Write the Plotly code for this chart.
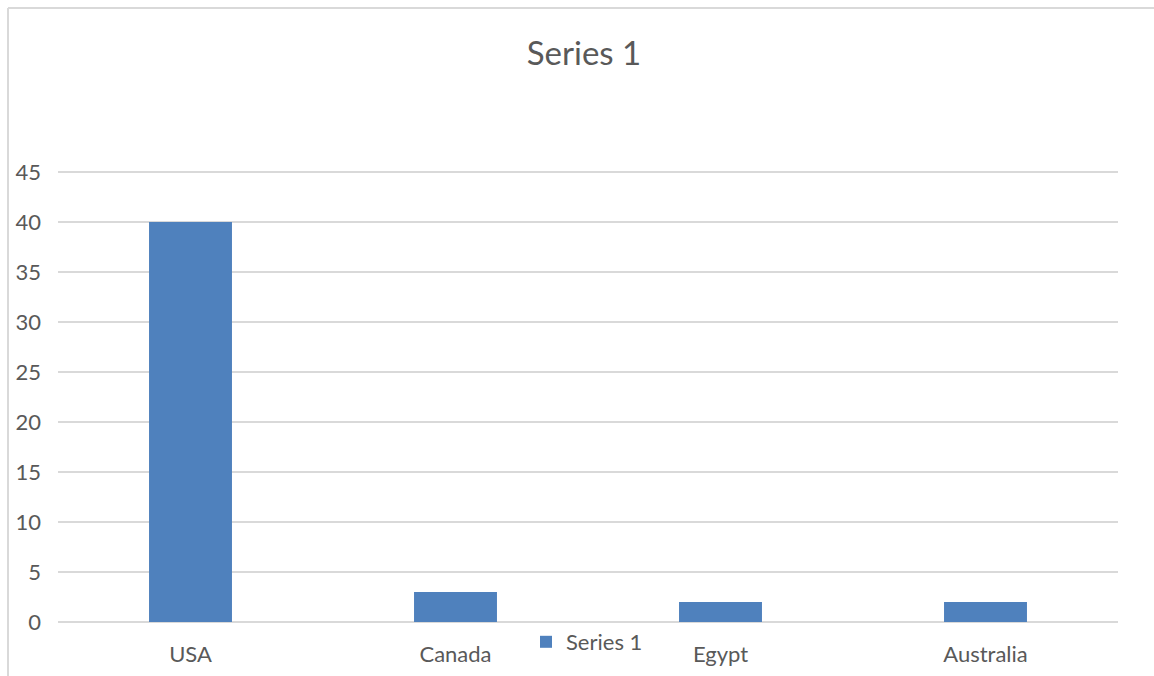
import plotly.graph_objects as go

categories = ["USA", "Canada", "Egypt", "Australia"]
values = [40, 3, 2, 2]
series_name = "Series 1"
y_ticks = [0, 5, 10, 15, 20, 25, 30, 35, 40, 45]

W, H = 1154, 676
L, R, T, B = 58, 36, 170, 54
pw = W - L - R
ph = H - T - B

fig = go.Figure()
fig.add_trace(go.Bar(
    x=categories, y=values, name=series_name,
    marker=dict(color="#4f81bd", line=dict(width=0)),
    showlegend=True,
))

font = "Lato, 'Open Sans', sans-serif"
fig.update_layout(
    width=W, height=H,
    margin=dict(l=L, r=R, t=T, b=B, autoexpand=False),
    paper_bgcolor="white", plot_bgcolor="white",
    bargap=0.687,
    font=dict(family=font, color="#595959", size=22),
    title=dict(text="Series 1", x=584 / W, xanchor="center",
               y=1 - 53 / H, yanchor="middle", yref="container",
               font=dict(size=33, color="#595959", family=font)),
    showlegend=True,
    legend=dict(x=526 / W, xref="container", xanchor="left",
                y=1 - 642 / H, yref="container", yanchor="middle",
                orientation="h", bgcolor="rgba(0,0,0,0)",
                font=dict(size=22, color="#595959"), itemwidth=30,
                tracegroupgap=0),
    xaxis=dict(showgrid=False, showline=False, zeroline=False, ticks="",
               tickfont=dict(size=22, color="#595959"), ticklabelstandoff=17),
    yaxis=dict(range=[0, 45.2], tickvals=y_ticks, showgrid=True, gridcolor="#d9d9d9",
               gridwidth=1.5, zeroline=True, zerolinecolor="#d9d9d9", zerolinewidth=1.5,
               showline=False, ticks="", tickfont=dict(size=22, color="#595959"),
               ticklabelstandoff=16),
)

# chart border (top and left visible)
fig.add_shape(type="line", xref="paper", yref="paper",
              x0=(8 - L) / pw, x1=(W + 5 - L) / pw, y0=(H - B - 8) / ph, y1=(H - B - 8) / ph,
              line=dict(color="#d9d9d9", width=2), layer="below")
fig.add_shape(type="line", xref="paper", yref="paper",
              x0=(8 - L) / pw, x1=(8 - L) / pw, y0=(H - B - 8) / ph, y1=-(B + 5) / ph,
              line=dict(color="#d9d9d9", width=2), layer="below")

fig.write_html("out.html")
